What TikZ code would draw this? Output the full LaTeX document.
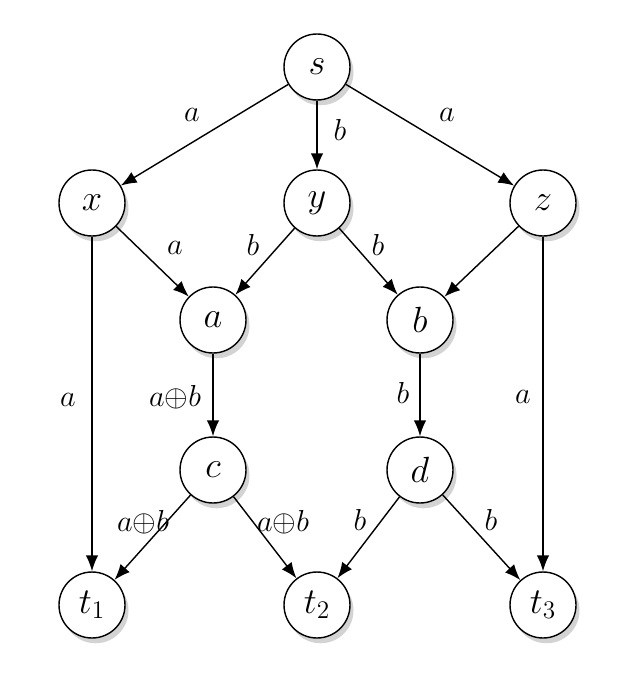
\documentclass[tikz,border=0pt]{standalone}
\usetikzlibrary{shadows,arrows.meta}
\begin{document}
\begin{tikzpicture}[x=0.02cm,y=-0.02cm,
  nd/.style={circle,draw,thick,fill=white,minimum size=1.32cm,inner sep=0pt,font=\fontsize{20}{24}\selectfont,drop shadow={shadow xshift=2pt,shadow yshift=-3pt,opacity=0.35}},
  ed/.style={-{Latex[length=9pt,width=7pt]},thick},
  lb/.style={font=\fontsize{18}{22}\selectfont}]
\useasboundingbox (0,0) rectangle (617,675);
\node[nd] (s) at (317,67) {$s$};
\node[nd] (x) at (92,203) {$x$};
\node[nd] (y) at (317,203) {$y$};
\node[nd] (z) at (543,203) {$z$};
\node[nd] (a) at (213,320) {$a$};
\node[nd] (b) at (420,320) {$b$};
\node[nd] (c) at (213,470) {$c$};
\node[nd] (d) at (420,470) {$d$};
\node[nd] (t1) at (92,605) {$t_1$};
\node[nd] (t2) at (317,605) {$t_2$};
\node[nd] (t3) at (543,605) {$t_3$};
\draw[ed] (s) -- (x);
\draw[ed] (s) -- (y);
\draw[ed] (s) -- (z);
\draw[ed] (x) -- (a);
\draw[ed] (y) -- (a);
\draw[ed] (y) -- (b);
\draw[ed] (z) -- (b);
\draw[ed] (x) -- (t1);
\draw[ed] (z) -- (t3);
\draw[ed] (a) -- (c);
\draw[ed] (b) -- (d);
\draw[ed] (c) -- (t1);
\draw[ed] (c) -- (t2);
\draw[ed] (d) -- (t2);
\draw[ed] (d) -- (t3);
\node[lb] (l1) at (192,115) {$a$};
\node[lb] (l2) at (340,130) {$b$};
\node[lb] (l3) at (447,115) {$a$};
\node[lb] (l4) at (175,248) {$a$};
\node[lb] (l5) at (253,245) {$b$};
\node[lb] (l6) at (378,245) {$b$};
\node[lb] (l7) at (68,400) {$a$};
\node[lb] (l8) at (175,397) {$a{\oplus}b$};
\node[lb] (l9) at (403,393) {$b$};
\node[lb] (l10) at (523,397) {$a$};
\node[lb] (l11) at (143,522) {$a{\oplus}b$};
\node[lb] (l12) at (283,522) {$a{\oplus}b$};
\node[lb] (l13) at (360,520) {$b$};
\node[lb] (l14) at (491,520) {$b$};
\end{tikzpicture}
\end{document}
